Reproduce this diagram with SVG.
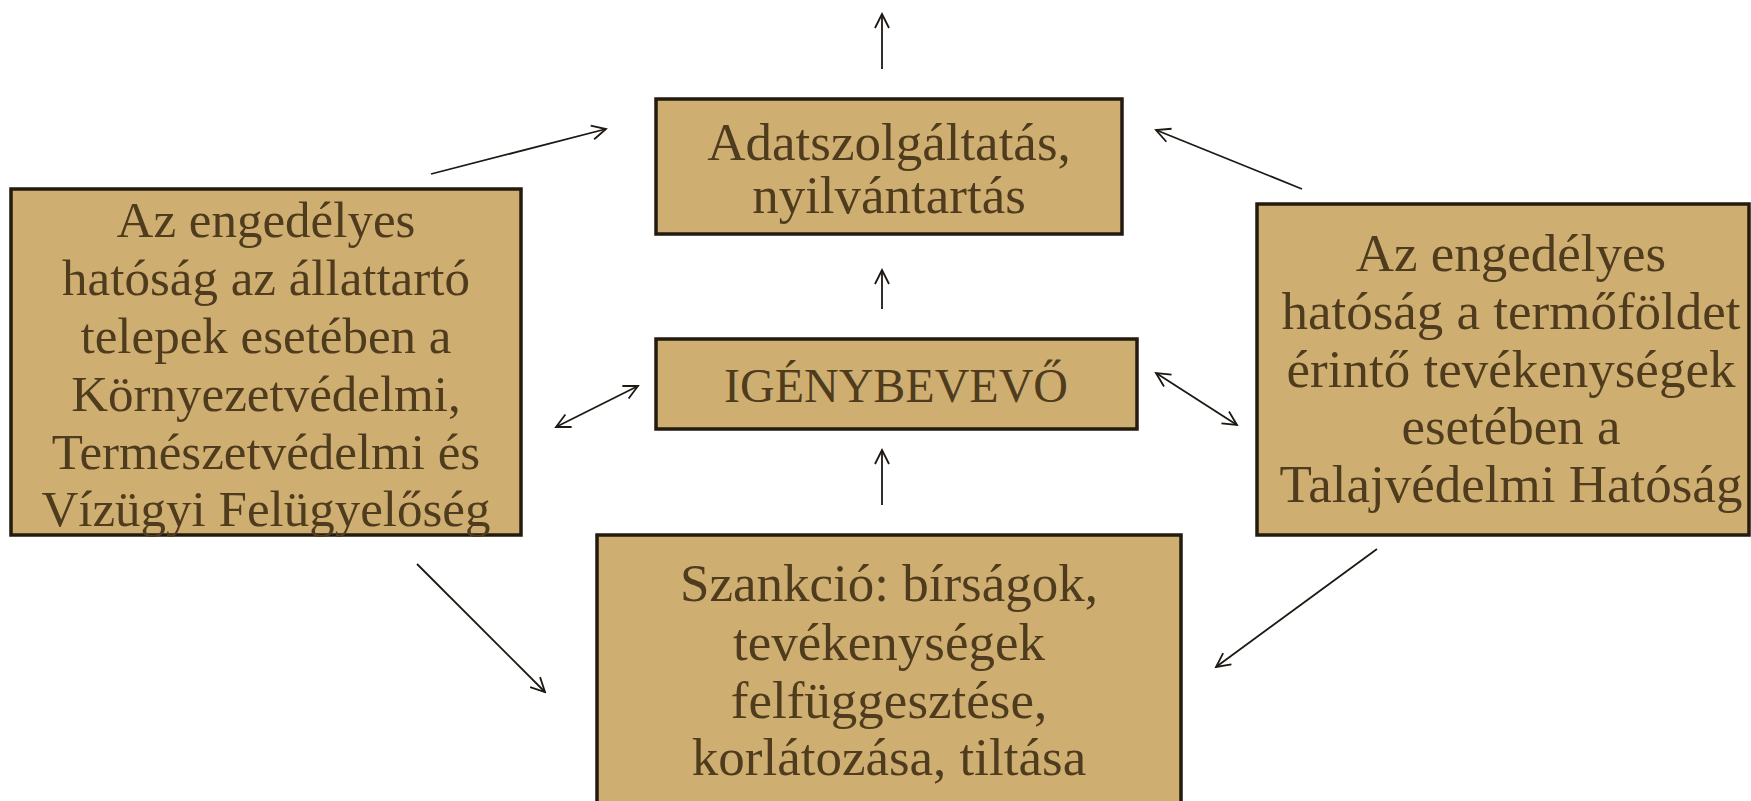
<svg xmlns="http://www.w3.org/2000/svg" width="1751" height="801" viewBox="0 0 1751 801">
<style>
.box{fill:#CFAF71;stroke:#231A10;stroke-width:3.5}
.t{font-family:"Liberation Serif","Times New Roman",serif;font-size:50px;fill:#4F3C1E;text-anchor:middle}
.big{font-size:53px}
.c{stroke:#1E1812;stroke-width:1.8;fill:none}
</style>
<defs>
<marker id="ah" markerUnits="userSpaceOnUse" markerWidth="20" markerHeight="20" viewBox="0 0 20 20" refX="18" refY="10" orient="auto-start-reverse">
<path d="M4,3 L18,10 L4,17" fill="none" stroke="#1E1812" stroke-width="1.8"/>
</marker>
</defs>
<rect width="1751" height="801" fill="#FFFFFF"/>
<g id="connectors">
<line class="c" x1="882" y1="69" x2="882" y2="14" marker-end="url(#ah)"/>
<line class="c" x1="431" y1="174" x2="606" y2="129" marker-end="url(#ah)"/>
<line class="c" x1="1302" y1="189" x2="1156" y2="130" marker-end="url(#ah)"/>
<line class="c" x1="882" y1="309" x2="882" y2="270" marker-end="url(#ah)"/>
<line class="c" x1="556" y1="427" x2="638" y2="386" marker-start="url(#ah)" marker-end="url(#ah)"/>
<line class="c" x1="1156" y1="373" x2="1237" y2="425" marker-start="url(#ah)" marker-end="url(#ah)"/>
<line class="c" x1="882" y1="505" x2="882" y2="450" marker-end="url(#ah)"/>
<line class="c" x1="417" y1="564" x2="545" y2="692" marker-end="url(#ah)"/>
<line class="c" x1="1377" y1="549" x2="1216" y2="667" marker-end="url(#ah)"/>
</g>
<g id="adat">
<rect class="box" x="656" y="99" width="466" height="135"/>
<text class="t big" x="889" y="160">Adatszolgáltatás,</text>
<text class="t big" x="889" y="213">nyilvántartás</text>
</g>
<g id="left">
<rect class="box" x="11" y="189" width="510" height="346"/>
<text class="t" x="266" y="237" style="font-size:51px">Az engedélyes</text>
<text class="t" x="266" y="295" style="font-size:51px">hatóság az állattartó</text>
<text class="t" x="266" y="353" style="font-size:51px">telepek esetében a</text>
<text class="t" x="266" y="411" style="font-size:51px">Környezetvédelmi,</text>
<text class="t" x="266" y="469" style="font-size:51px">Természetvédelmi és</text>
<text class="t" x="266" y="526" style="font-size:51px">Vízügyi Felügyelőség</text>
</g>
<g id="right">
<rect class="box" x="1257" y="204" width="492" height="331"/>
<text class="t big" x="1511" y="271">Az engedélyes</text>
<text class="t big" x="1511" y="329">hatóság a termőföldet</text>
<text class="t big" x="1511" y="387">érintő tevékenységek</text>
<text class="t big" x="1511" y="444">esetében a</text>
<text class="t big" x="1511" y="502">Talajvédelmi Hatóság</text>
</g>
<g id="igeny">
<rect class="box" x="656" y="339" width="481" height="90"/>
<text class="t" x="896" y="402" style="font-size:48px">IGÉNYBEVEVŐ</text>
</g>
<g id="szankcio">
<rect class="box" x="597" y="535" width="584" height="300"/>
<text class="t big" x="889" y="601">Szankció: bírságok,</text>
<text class="t big" x="889" y="660">tevékenységek</text>
<text class="t big" x="889" y="718">felfüggesztése,</text>
<text class="t big" x="889" y="775">korlátozása, tiltása</text>
</g>
</svg>
